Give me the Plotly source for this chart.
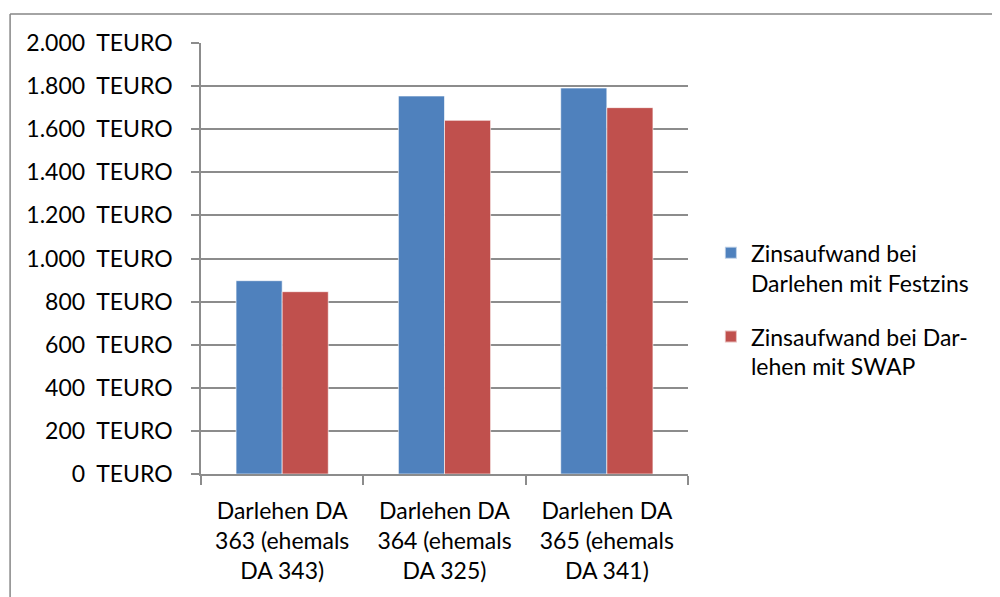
import plotly.graph_objects as go

categories = ["Darlehen DA<br>363 (ehemals<br>DA 343)",
              "Darlehen DA<br>364 (ehemals<br>DA 325)",
              "Darlehen DA<br>365 (ehemals<br>DA 341)"]
festzins = [897, 1754, 1791]
swap = [846, 1641, 1700]
series_names = ["Zinsaufwand bei<br>Darlehen mit Festzins",
                "Zinsaufwand bei Dar-<br>lehen mit SWAP"]
tick_vals = [0, 200, 400, 600, 800, 1000, 1200, 1400, 1600, 1800, 2000]
tick_text = ["0\u00a0 TEURO", "200\u00a0 TEURO", "400\u00a0 TEURO", "600\u00a0 TEURO",
             "800\u00a0 TEURO", "1.000\u00a0 TEURO", "1.200\u00a0 TEURO", "1.400\u00a0 TEURO",
             "1.600\u00a0 TEURO", "1.800\u00a0 TEURO", "2.000\u00a0 TEURO"]

FONT = "Lato"
FS = 23
fig = go.Figure()
fig.add_trace(go.Bar(x=categories, y=festzins, name=series_names[0], legendgroup="g1",
                     marker=dict(color="#4F81BD", line=dict(color="rgba(255,255,255,0.6)", width=1))))
fig.add_trace(go.Bar(x=categories, y=swap, name=series_names[1], legendgroup="g2",
                     marker=dict(color="#C0504D", line=dict(color="rgba(255,255,255,0.6)", width=1))))

grid = "#8C8C8C"
fig.update_layout(
    width=1000, height=597,
    margin=dict(l=193, r=320, t=35, b=131, autoexpand=False),
    paper_bgcolor="white", plot_bgcolor="white",
    font=dict(family=FONT, size=FS, color="#000000"),
    barmode="group", bargap=0.432, bargroupgap=0,
    showlegend=True,
    legend=dict(x=1.047, y=0.381, xanchor="left", yanchor="middle", valign="top",
                font=dict(family=FONT, size=FS, color="#000000"),
                tracegroupgap=21, itemsizing="constant",
                bgcolor="rgba(0,0,0,0)"),
    xaxis=dict(showline=True, linecolor=grid, linewidth=1.5,
               ticks="outside", ticklen=9, tickcolor=grid, tickwidth=1.5,
               tickson="boundaries", showgrid=False, ticklabelstandoff=16,
               tickfont=dict(family=FONT, size=FS)),
    yaxis=dict(range=[0, 2000], tickvals=tick_vals, ticktext=tick_text,
               showline=True, linecolor=grid, linewidth=1.5,
               ticks="outside", ticklen=8, tickcolor=grid, tickwidth=1.5,
               showgrid=True, gridcolor=grid, gridwidth=1.5,
               zeroline=False, ticklabelstandoff=14,
               tickfont=dict(family=FONT, size=FS)),
    shapes=[
        dict(type="line", xref="paper", yref="paper", x0=-0.392, x1=1.7, y0=1.067, y1=1.067,
             line=dict(color="#868686", width=1.5)),
        dict(type="line", xref="paper", yref="paper", x0=-0.392, x1=-0.392, y0=1.067, y1=-0.4,
             line=dict(color="#868686", width=1.5)),
    ],
)
fig.write_html("out.html")
